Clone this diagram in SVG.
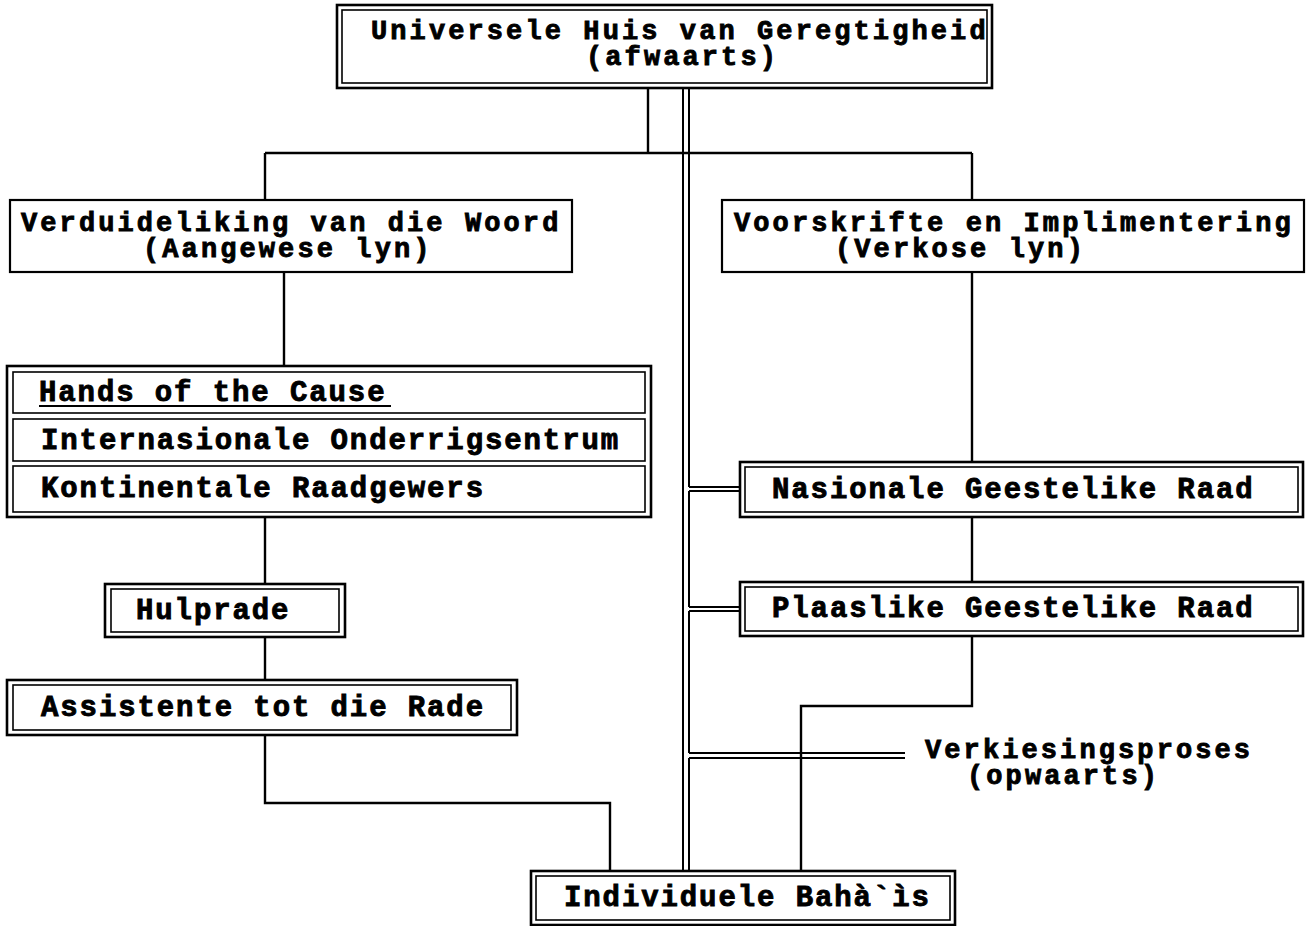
<svg xmlns="http://www.w3.org/2000/svg" width="1315" height="926" viewBox="0 0 1315 926">
<style>
  .o{fill:none;stroke:#000;stroke-width:2.6}
  .i{fill:none;stroke:#000;stroke-width:1.6}
  .s{fill:none;stroke:#000;stroke-width:2.2}
  .c{fill:none;stroke:#000;stroke-width:2.4}
  .d{fill:none;stroke:#000;stroke-width:2}
  text{font-family:"Liberation Mono","Courier New",monospace;font-weight:bold;font-size:29px;letter-spacing:1.9px;fill:#000;stroke:#000;stroke-width:0.9}
  text.ml{font-size:27px;letter-spacing:3.1px}
</style>
<rect width="1315" height="926" fill="#fff"/>
<g id="connectors">
  <path class="c" d="M648 88V153M265 153H972M265 153V200M972 153V200M284 272V366M265 517V584M265 637V680M265 735V803H610V871M972 272V462M972 517V582M972 636V706H801V871"/>
  <path class="d" d="M683 88V871M689 88V487M689 491V607M689 611V753M689 758V871M689 487H740M689 491H740M689 607H740M689 611H740M689 753H905M689 758H905"/>
</g>
<g id="n-uhj">
  <rect class="o" x="337" y="5" width="655" height="83"/>
  <rect class="i" x="342" y="10" width="645" height="73"/>
  <text class="ml"><tspan x="371" y="39">Universele Huis van Geregtigheid</tspan><tspan x="586" y="65">(afwaarts)</tspan></text>
</g>
<g id="n-verduideliking">
  <rect class="s" x="10" y="200" width="562" height="72"/>
  <text class="ml"><tspan x="21" y="231">Verduideliking van die Woord</tspan><tspan x="143" y="257">(Aangewese lyn)</tspan></text>
</g>
<g id="n-voorskrifte">
  <rect class="s" x="722" y="200" width="582" height="72"/>
  <text class="ml"><tspan x="734" y="231">Voorskrifte en Implimentering</tspan><tspan x="835" y="257">(Verkose lyn)</tspan></text>
</g>
<g id="n-stack">
  <rect class="o" x="7" y="366" width="644" height="151"/>
  <g id="n-hands">
    <rect class="i" x="13" y="372" width="632" height="41"/>
    <text x="39" y="401">Hands of the Cause</text>
    <line x1="39" y1="406" x2="391" y2="406" stroke="#000" stroke-width="2.2"/>
  </g>
  <g id="n-internasionale">
    <rect class="i" x="13" y="419" width="632" height="42"/>
    <text x="41" y="449">Internasionale Onderrigsentrum</text>
  </g>
  <g id="n-kontinentale">
    <rect class="i" x="13" y="466" width="632" height="46"/>
    <text x="41" y="497">Kontinentale Raadgewers</text>
  </g>
</g>
<g id="n-hulprade">
  <rect class="o" x="105" y="584" width="240" height="53"/>
  <rect class="i" x="111" y="589" width="228" height="43"/>
  <text x="136" y="619">Hulprade</text>
</g>
<g id="n-assistente">
  <rect class="o" x="7" y="680" width="510" height="55"/>
  <rect class="i" x="13" y="685" width="498" height="45"/>
  <text x="41" y="716">Assistente tot die Rade</text>
</g>
<g id="n-nasionale">
  <rect class="o" x="740" y="462" width="563" height="55"/>
  <rect class="i" x="745" y="467" width="553" height="45"/>
  <text x="772" y="498">Nasionale Geestelike Raad</text>
</g>
<g id="n-plaaslike">
  <rect class="o" x="740" y="582" width="563" height="54"/>
  <rect class="i" x="745" y="587" width="553" height="44"/>
  <text x="772" y="617">Plaaslike Geestelike Raad</text>
</g>
<g id="n-verkiesing">
  <text class="ml"><tspan x="925" y="758">Verkiesingsproses</tspan><tspan x="967" y="784">(opwaarts)</tspan></text>
</g>
<g id="n-individuele">
  <rect class="o" x="531" y="871" width="424" height="54"/>
  <rect class="i" x="536" y="876" width="414" height="44"/>
  <text x="564" y="906">Individuele Bahà`ìs</text>
</g>
</svg>
